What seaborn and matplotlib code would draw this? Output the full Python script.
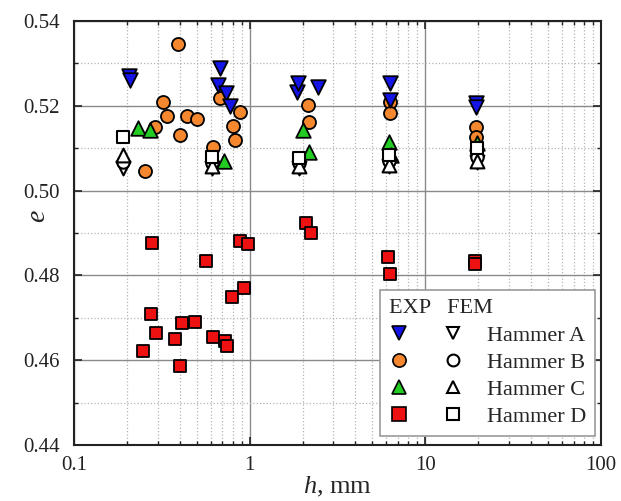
import numpy as np
import pandas as pd
import matplotlib
matplotlib.use("Agg")
import matplotlib.pyplot as plt
import seaborn as sns
from matplotlib.lines import Line2D
from matplotlib.legend_handler import HandlerTuple
from matplotlib.ticker import MultipleLocator, LogLocator, FixedLocator, FuncFormatter

# Experimental data (h in mm, e)
exp_a_h = [0.205, 0.208, 0.66, 0.68, 0.73, 0.77, 1.85, 1.89, 2.45, 6.3, 6.3, 19.5, 19.5]
exp_a_e = [0.527, 0.526, 0.525, 0.529, 0.523, 0.520, 0.5233, 0.5253, 0.5244, 0.5254, 0.5213, 0.5207, 0.5196]

exp_b_h = [0.39, 0.32, 0.34, 0.44, 0.50, 0.29, 0.40, 0.254, 0.68, 0.88, 0.80, 0.83, 0.62,
           2.15, 2.18, 6.3, 6.3, 19.5, 19.5]
exp_b_e = [0.5345, 0.521, 0.5177, 0.5177, 0.517, 0.515, 0.513, 0.5046, 0.5219, 0.5186, 0.5152,
           0.512, 0.5103, 0.5202, 0.5162, 0.521, 0.5183, 0.5151, 0.5127]

exp_c_h = [0.23, 0.27, 0.71, 2.0, 2.18, 6.2, 6.4, 19.8]
exp_c_e = [0.5147, 0.5143, 0.507, 0.5144, 0.5091, 0.5115, 0.5085, 0.5112]

exp_d_h = [0.277, 0.88, 0.98, 0.566, 0.93, 0.795, 0.274, 0.413, 0.491, 0.292, 0.375, 0.622,
           0.724, 0.74, 0.246, 0.401, 2.08, 2.22, 6.1, 6.3, 19.2, 19.2]
exp_d_e = [0.4877, 0.4882, 0.4873, 0.4835, 0.477, 0.475, 0.4708, 0.4688, 0.469, 0.4663, 0.4649,
           0.4655, 0.4645, 0.4633, 0.4621, 0.4586, 0.4923, 0.4899, 0.4844, 0.4804, 0.4833, 0.4826]

# FEM results
fem_h = [0.19, 0.61, 1.9, 6.2, 19.6]
fem_a_e = [0.5053, 0.5053, 0.5053, 0.5058, 0.5068]
fem_b_e = [0.5067, 0.5066, 0.5065, 0.5070, 0.5080]
fem_c_e = [0.5085, 0.5058, 0.5058, 0.5060, 0.5070]
fem_d_e = [0.5127, 0.5079, 0.5077, 0.5083, 0.5100]

hammers = ["Hammer A", "Hammer B", "Hammer C", "Hammer D"]
colors = {"Hammer A": "#1414e6", "Hammer B": "#f5882e", "Hammer C": "#22cc22", "Hammer D": "#ee1111"}
markers = {"Hammer A": "v", "Hammer B": "o", "Hammer C": "^", "Hammer D": "s"}
sizes = {"Hammer A": 110, "Hammer B": 88, "Hammer C": 110, "Hammer D": 80}

exp_df = pd.concat([
    pd.DataFrame({"h": exp_a_h, "e": exp_a_e, "hammer": "Hammer A"}),
    pd.DataFrame({"h": exp_b_h, "e": exp_b_e, "hammer": "Hammer B"}),
    pd.DataFrame({"h": exp_c_h, "e": exp_c_e, "hammer": "Hammer C"}),
    pd.DataFrame({"h": exp_d_h, "e": exp_d_e, "hammer": "Hammer D"}),
])
fem_df = pd.concat([
    pd.DataFrame({"h": fem_h, "e": vals, "hammer": name})
    for name, vals in zip(hammers, [fem_a_e, fem_b_e, fem_c_e, fem_d_e])
])

sns.set_style("ticks")
plt.rcParams["font.family"] = ["Liberation Serif", "DejaVu Serif"]
plt.rcParams["mathtext.fontset"] = "custom"
plt.rcParams["mathtext.it"] = "Liberation Serif:italic"
plt.rcParams["mathtext.rm"] = "Liberation Serif"

fig = plt.figure(figsize=(6.21, 5.01), dpi=100)
ax = fig.add_axes([74 / 621, 56 / 501, 527 / 621, 424 / 501])

# draw order: B, C, A, D, then FEM on top
for name in ["Hammer B", "Hammer C", "Hammer A", "Hammer D"]:
    sub = exp_df[exp_df["hammer"] == name]
    sns.scatterplot(data=sub, x="h", y="e", ax=ax, marker=markers[name], s=sizes[name],
                    color=colors[name], edgecolor="black", linewidth=1.3, legend=False, zorder=3)
for name in hammers:
    sub = fem_df[fem_df["hammer"] == name]
    sns.scatterplot(data=sub, x="h", y="e", ax=ax, marker=markers[name], s=sizes[name] * 0.9,
                    color="white", edgecolor="black", linewidth=1.5, legend=False, zorder=4)

ax.set_xscale("log")
ax.set_xlim(0.1, 100)
ax.set_ylim(0.44, 0.54)
ax.xaxis.set_major_locator(FixedLocator([0.1, 1, 10, 100]))
ax.xaxis.set_minor_locator(LogLocator(base=10, subs=np.arange(2, 10), numticks=20))
ax.xaxis.set_major_formatter(FuncFormatter(lambda v, p: f"{v:g}"))
ax.yaxis.set_major_locator(MultipleLocator(0.02))
ax.yaxis.set_minor_locator(MultipleLocator(0.01))
ax.yaxis.set_major_formatter(FuncFormatter(lambda v, p: f"{v:.2f}"))

ax.grid(which="major", color="#8a8a8a", linewidth=1.0, zorder=0)
ax.grid(which="minor", color="#b5b5b5", linestyle=":", linewidth=0.9, zorder=0)
ax.set_axisbelow(True)

ax.tick_params(which="both", direction="in", top=True, right=True, labelsize=15, colors="#222222")
ax.tick_params(which="major", length=6, width=1.2)
ax.tick_params(which="minor", length=3, width=1.0)
ax.tick_params(axis="x", which="major", pad=8)
ax.tick_params(axis="y", which="major", pad=10)
for sp in ax.spines.values():
    sp.set_linewidth(1.5)
    sp.set_color("#222222")

ax.set_xlabel("$h$, mm", fontsize=19, labelpad=0)
ax.set_ylabel("$e$", fontsize=20, rotation=90)
ax.yaxis.set_label_coords(-0.043, 0.54)

handles = []
for name in hammers:
    filled = Line2D([], [], linestyle="none", marker=markers[name], markersize=9.5,
                    markerfacecolor=colors[name], markeredgecolor="black", markeredgewidth=1.2)
    empty = Line2D([], [], linestyle="none", marker=markers[name], markersize=8.5,
                   markerfacecolor="white", markeredgecolor="black", markeredgewidth=1.5)
    handles.append((filled, empty))

leg = ax.legend(handles, hammers, handler_map={tuple: HandlerTuple(ndivide=None, pad=1.53)},
                title="EXP   FEM", alignment="left", loc="lower right",
                bbox_to_anchor=(0.989, 0.021), borderaxespad=0, fontsize=16, title_fontsize=16,
                handlelength=3.33, labelspacing=0.3, handletextpad=1.1, borderpad=0.4,
                fancybox=False, framealpha=1, edgecolor="#999999")
leg.get_frame().set_linewidth(1.2)
leg.set_zorder(10)

fig.savefig("out.png", dpi=100)
